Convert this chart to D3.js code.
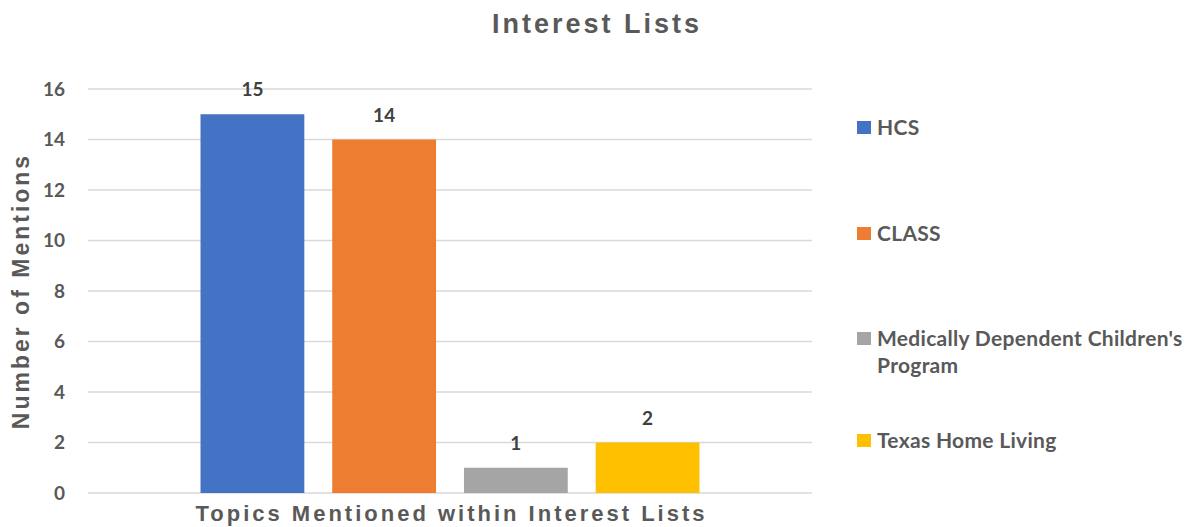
<!DOCTYPE html>
<html>
<head>
<meta charset="utf-8">
<script src="https://cdn.jsdelivr.net/npm/d3@7"></script>
<style>
  body { margin: 0; background: #fff; }
</style>
</head>
<body>
<div id="chart"></div>
<script>
var series = ['HCS', 'CLASS', "Medically Dependent Children's Program", 'Texas Home Living'];
var legendLines = [['HCS'], ['CLASS'], ['Medically Dependent Children\'s', 'Program'], ['Texas Home Living']];
var mentions = [15, 14, 1, 2];
var colors = ['#4472c4', '#ed7d31', '#a5a5a5', '#ffc000'];
var category = 'Topics Mentioned within Interest Lists';
var yTicks = [0, 2, 4, 6, 8, 10, 12, 14, 16];

var width = 1203, height = 527;
var margin = ({top: 89, right: 391, bottom: 34, left: 88});
var visWidth = width - margin.left - margin.right;
var visHeight = height - margin.top - margin.bottom;

var y = d3.scaleLinear().domain([0, 16]).range([visHeight, 0]);
var x0 = d3.scaleBand().domain([category]).range([0, visWidth]).paddingInner(0).paddingOuter(0.2255);
var x1 = d3.scaleBand().domain(series).range([0, x0.bandwidth()]).paddingInner(0.212).paddingOuter(0);
var color = d3.scaleOrdinal().domain(series).range(colors);

function drawChart() {
  const svg = d3.select('#chart')
      .append('svg')
      .attr('width', width)
      .attr('height', height)
      .style('font-family', '"Liberation Sans", Arial, sans-serif');

  svg.append('text')
     .attr('x', 597)
     .attr('y', 33)
     .attr('text-anchor', 'middle')
     .attr('fill', '#595959')
     .style('font-size', '27px')
     .style('font-weight', 'bold')
     .style('letter-spacing', '3px')
     .text('Interest Lists');

  const g = svg.append('g')
      .attr('transform', `translate(${margin.left}, ${margin.top})`);

  // gridlines
  g.append('g')
    .selectAll('line')
    .data(yTicks)
    .join('line')
      .attr('x1', 0)
      .attr('x2', visWidth)
      .attr('y1', d => y(d))
      .attr('y2', d => y(d))
      .attr('stroke', '#d9d9d9')
      .attr('stroke-width', 1.5);

  // y axis labels
  const yAxis = g.append('g')
      .call(d3.axisLeft(y).tickValues(yTicks).tickSize(0).tickPadding(23));
  yAxis.select('.domain').remove();
  yAxis.selectAll('text')
      .attr('fill', '#595959')
      .style('font-family', 'Lato, "Open Sans", sans-serif')
      .style('font-size', '19px')
      .style('font-weight', 'bold');

  // bars
  const grp = g.append('g')
      .attr('transform', `translate(${x0(category)}, 0)`);

  grp.selectAll('rect')
    .data(series)
    .join('rect')
      .attr('x', d => x1(d))
      .attr('y', (d, i) => y(mentions[i]))
      .attr('width', x1.bandwidth())
      .attr('height', (d, i) => y(0) - y(mentions[i]))
      .attr('fill', d => color(d));

  grp.selectAll('text.lbl')
    .data(series)
    .join('text')
      .attr('class', 'lbl')
      .attr('x', d => x1(d) + x1.bandwidth() / 2)
      .attr('y', (d, i) => y(mentions[i]) - 18)
      .attr('text-anchor', 'middle')
      .attr('fill', '#404040')
      .style('font-family', 'Lato, "Open Sans", sans-serif')
      .style('font-size', '19px')
      .style('font-weight', 'bold')
      .text((d, i) => mentions[i]);

  // axis titles
  svg.append('text')
     .attr('x', margin.left + visWidth / 2 + 1.5)
     .attr('y', 521)
     .attr('text-anchor', 'middle')
     .attr('fill', '#595959')
     .style('font-size', '22px')
     .style('font-weight', 'bold')
     .style('letter-spacing', '3px')
     .text(category);

  svg.append('text')
     .attr('transform', 'translate(29, 291) rotate(-90)')
     .attr('text-anchor', 'middle')
     .attr('fill', '#595959')
     .style('font-size', '23px')
     .style('font-weight', 'bold')
     .style('letter-spacing', '3px')
     .text('Number of Mentions');

  // legend (baselines)
  const legendY = [135, 241, 346, 448];
  const lg = svg.append('g').attr('transform', 'translate(857, 0)');
  const item = lg.selectAll('g')
    .data(series)
    .join('g')
      .attr('transform', (d, i) => `translate(0, ${legendY[i]})`);

  item.append('rect')
      .attr('x', 0)
      .attr('y', -14)
      .attr('width', 14)
      .attr('height', 13)
      .attr('fill', d => color(d));

  item.append('text')
      .attr('fill', '#595959')
      .style('font-family', 'Lato, "Open Sans", sans-serif')
      .style('font-size', '21px')
      .style('font-weight', 'bold')
      .style('letter-spacing', '0.3px')
      .selectAll('tspan')
      .data((d, i) => legendLines[i])
      .join('tspan')
        .attr('x', 20)
        .attr('y', (d, j) => j * 27)
        .text(d => d);

  return svg.node();
}

function init() {
  drawChart();
}

window.onload = init;
</script>
</body>
</html>
